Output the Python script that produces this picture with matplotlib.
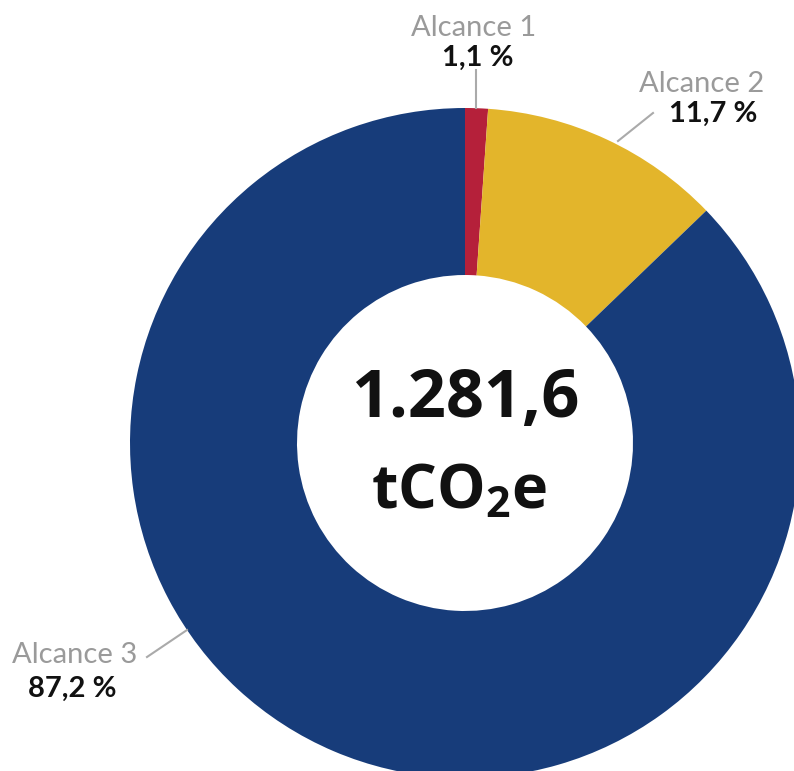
import matplotlib
matplotlib.use("Agg")
import matplotlib.pyplot as plt

# data
labels = ["Alcance 1", "Alcance 2", "Alcance 3"]
shares = [1.1, 11.7, 87.2]
share_text = ["1,1 %", "11,7 %", "87,2 %"]
colors = ["#B5203A", "#E3B52B", "#173C7A"]
total_text = "1.281,6"

W, H = 794, 771
fig = plt.figure(figsize=(W / 100, H / 100), dpi=100)
ax = fig.add_axes([0, 0, 1, 1])

# donut, pixel coordinates with y going up
cx, cy = 465, H - 443
r = 335
ax.pie(shares, colors=colors, startangle=90, counterclock=False,
       center=(cx, cy), radius=r, frame=True,
       wedgeprops=dict(width=r - 168, edgecolor="none", linewidth=0))
ax.set_xlim(0, W)
ax.set_ylim(0, H)
ax.set_aspect("equal")
ax.axis("off")

# centre total
ax.text(cx, H - 400, total_text, ha="center", va="center",
        fontsize=48, fontweight="bold", family="Open Sans", color="#111111")
ax.text(cx - 6, H - 493, r"tCO$_\mathregular{2}$e", ha="center", va="center",
        fontsize=44, fontweight="bold", family="Open Sans", color="#111111")

gray = "#9a9a9a"
# label positions (pixels from top)
lab_pos = [(474, 28), (702, 84), (75, 655)]
pct_pos = [(478, 58), (713, 114), (72, 689)]
lines = [((476, 70), (476, 108)), ((653, 113), (618, 141)), ((147, 657), (187, 630))]

for name, pct, (lx, ly), (px, py), (p0, p1) in zip(labels, share_text, lab_pos, pct_pos, lines):
    ax.text(lx, H - ly, name, ha="center", va="center", fontsize=21,
            family="Lato", color=gray)
    ax.text(px, H - py, pct, ha="center", va="center", fontsize=21,
            family="Lato", fontweight="bold", color="#111111")
    ax.plot([p0[0], p1[0]], [H - p0[1], H - p1[1]], color="#aaaaaa", lw=1.5)

fig.savefig("out.png", dpi=100, facecolor="white")
